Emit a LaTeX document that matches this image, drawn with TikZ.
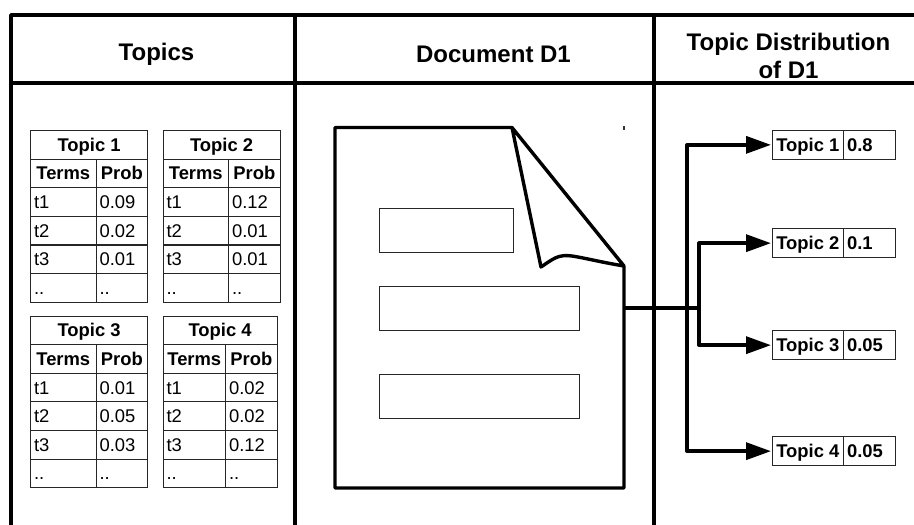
\documentclass[tikz,border=0pt]{standalone}
\usepackage{fontspec}
\setmainfont{Liberation Sans}
\usetikzlibrary{arrows.meta,calc}
\tikzset{
  frameline/.style={line width=3.6pt,black,line cap=round,line join=round},
  docline/.style={line width=3.4pt,black,line join=round,line cap=round},
  linkline/.style={line width=3.4pt,black,line join=round},
  linkarrow/.style={linkline,-{Triangle[length=25pt,width=17pt]},shorten >=0.5pt},
  headtext/.style={font=\fontsize{24}{28}\selectfont\bfseries,align=center,inner sep=0pt},
  cellbase/.style={draw=black!85,line width=1.1pt,inner ysep=0pt,anchor=north west,minimum height=#1,text height=15pt,text depth=2pt},
  titlecell/.style={cellbase=28.6pt,font=\fontsize{18.4}{20}\selectfont\bfseries,inner xsep=0pt},
  headcell/.style={cellbase=28.6pt,font=\fontsize{18.4}{20}\selectfont\bfseries,inner xsep=0pt},
  bodycell/.style={cellbase=28.6pt,font=\fontsize{18.4}{20}\selectfont,inner xsep=3.5pt,align=left},
  contentbox/.style={draw=black!85,line width=1.2pt,anchor=north west,inner sep=0pt},
  distname/.style={cellbase=28.6pt,font=\fontsize{18.4}{20}\selectfont\bfseries,inner xsep=0pt,minimum width=71.5pt},
  distval/.style={cellbase=28.6pt,font=\fontsize{18.4}{20}\selectfont\bfseries,inner xsep=3.5pt,align=left,text width=45pt},
}
% #1 name, #2 x, #3 y, #4 first col width, #5 second col width, #6 title, #7-#9 probabilities
\newcommand{\topictable}[9]{%
  \node[titlecell,minimum width={#4pt+#5pt}] (#1title) at (#2,#3) {#6};
  \node[headcell,minimum width=#4pt] (#1terms) at (#2,#3+28.6) {Terms};
  \node[headcell,minimum width=#5pt] (#1prob) at (#2+#4,#3+28.6) {Prob};
  \foreach \rowno/\termtxt/\probtxt in {1/t1/#7,2/t2/#8,3/t3/#9,4/../..}{%
    \node[bodycell,text width=#4pt-7pt] (#1t\rowno) at (#2,#3+28.6+28.6*\rowno) {\termtxt};
    \node[bodycell,text width=#5pt-7pt] (#1p\rowno) at (#2+#4,#3+28.6+28.6*\rowno) {\probtxt};
  }%
}
\begin{document}
\begin{tikzpicture}[x=1pt,y=-1pt]
\useasboundingbox (0,0) rectangle (914,525);
% frame
\coordinate (frameTL) at (11,15);
\coordinate (frameBL) at (11,530);
\coordinate (frameTR) at (920,15);
\coordinate (headL) at (11,83);
\coordinate (headR) at (920,83);
\draw[frameline] (frameBL) -- (frameTL) -- (frameTR);
\draw[frameline] (headL) -- (headR);
\draw[frameline] (295,15) -- (295,530);
\draw[frameline] (654,15) -- (654,530);
% headers
\node[headtext] (h1) at (156.5,54) {Topics};
\node[headtext] (h2) at (493.5,54) {Document D1};
\node[headtext] (h3) at (788.5,55.5) {Topic Distribution\\of D1};
% tables
\topictable{a}{30}{130}{65.5}{51.5}{Topic 1}{0.09}{0.02}{0.01}
\topictable{b}{162.5}{130}{65.5}{51.5}{Topic 2}{0.12}{0.01}{0.01}
\topictable{c}{30}{315.5}{65.5}{51.5}{Topic 3}{0.01}{0.05}{0.03}
\topictable{d}{162.5}{315.5}{62.5}{51.5}{Topic 4}{0.02}{0.02}{0.12}
% document
\coordinate (docTL) at (335,127.5);
\coordinate (docFoldTop) at (512,127.5);
\coordinate (docFoldBot) at (624,266);
\coordinate (docBR) at (624,488);
\coordinate (docBL) at (335,488);
\coordinate (docFoldIn) at (541,267);
\draw[docline] (docFoldBot) -- (docBR) -- (docBL) -- (docTL) -- (docFoldTop) -- (docFoldBot)
  .. controls (600,262) and (585,258) .. (572,256)
  .. controls (558,254) and (553,259) .. (docFoldIn) -- (docFoldTop);
\node[contentbox,minimum width=133.5pt,minimum height=44pt] (box1) at (379,208) {};
\node[contentbox,minimum width=200pt,minimum height=44pt] (box2) at (379,285.5) {};
\node[contentbox,minimum width=200pt,minimum height=44pt] (box3) at (379,374) {};
\fill[black!80] (623.3,125.5) rectangle (625,130);
% distribution
\foreach \nm/\yy/\lab/\val in {e1/130/Topic 1/0.8,e2/228.3/Topic 2/0.1,e3/330.3/Topic 3/0.05,e4/436.3/Topic 4/0.05}{
  \node[distname] (\nm) at (771.5,\yy) {\lab};
  \node[distval] (\nm v) at (843,\yy) {\val};
}
% connectors
\coordinate (hub) at (687,308);
\coordinate (hubb) at (699,308);
\draw[linkline] (docBR |- hub) -- (hubb);
\draw[linkarrow] (hub) |- (e1.west);
\draw[linkarrow] (hub) |- (e4.west);
\draw[linkarrow] (hubb) |- (e2.west);
\draw[linkarrow] (hubb) |- (e3.west);
\end{tikzpicture}
\end{document}
